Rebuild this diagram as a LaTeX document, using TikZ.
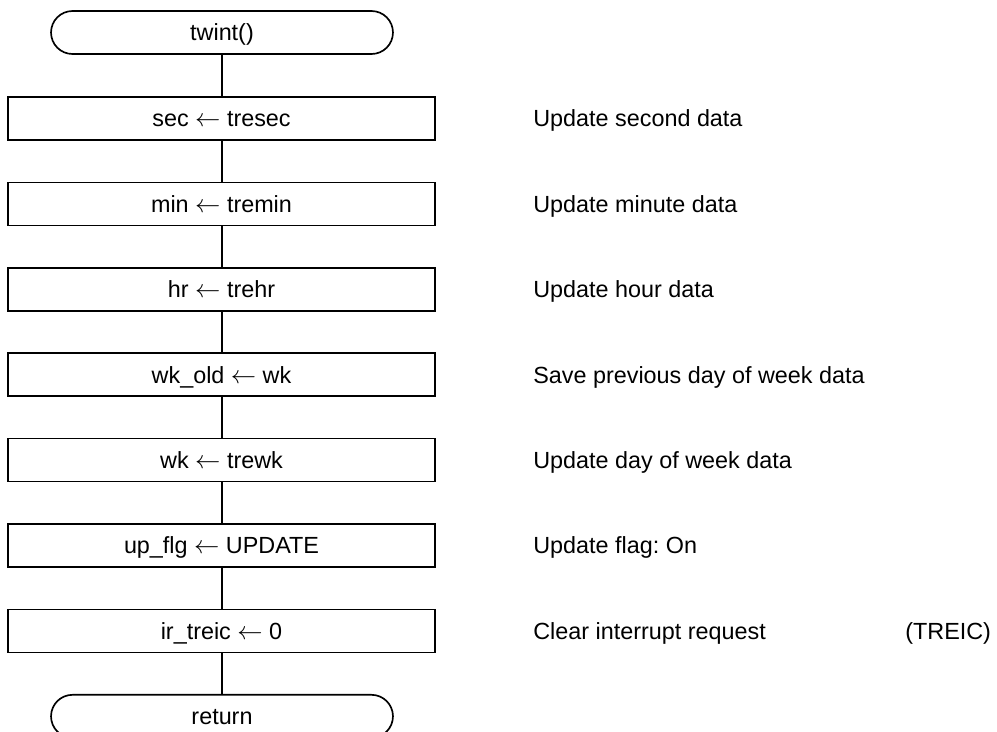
\documentclass[tikz,border=0pt]{standalone}
\usepackage{fontspec}
\setmainfont{Liberation Sans}
\frenchspacing
\begin{document}
\begin{tikzpicture}[x=0.02cm,y=-0.02cm,
  txt/.style={font=\fontsize{13.3}{15}\selectfont, text height=9.5pt, text depth=0pt},
  procbox/.style={txt, draw, line width=0.95pt, minimum width=8.54cm, minimum height=0.86cm,
                  inner sep=0pt, outer sep=0pt},
  termbox/.style={txt, draw, line width=0.95pt, rounded corners=0.43cm, minimum width=6.84cm,
                  minimum height=0.86cm, inner sep=0pt, outer sep=0pt},
  note/.style={txt, anchor=west, inner sep=0pt},
  flowline/.style={line width=0.85pt}]
  \useasboundingbox (0,0) rectangle (997,731);
  \clip (0,0) rectangle (997,731);

  % terminals
  \node[termbox] (start) at (222,32.5) {twint()};
  \node[termbox] (ret)   at (222,716.3) {return};

  % processing steps
  \node[procbox] (p1) at (221.5,118.5) {sec $\leftarrow$ tresec};
  \node[procbox] (p2) at (221.5,203.9) {min $\leftarrow$ tremin};
  \node[procbox] (p3) at (221.5,289.3) {hr $\leftarrow$ trehr};
  \node[procbox] (p4) at (221.5,374.7) {wk\_old $\leftarrow$ wk};
  \node[procbox] (p5) at (221.5,460.1) {wk $\leftarrow$ trewk};
  \node[procbox] (p6) at (221.5,545.5) {up\_flg $\leftarrow$ UPDATE};
  \node[procbox] (p7) at (221.5,630.9) {ir\_treic $\leftarrow$ 0};

  % comments beside the steps
  \node[note] (c1) at (533,118.5) {Update second data};
  \node[note] (c2) at (533,203.9) {Update minute data};
  \node[note] (c3) at (533,289.3) {Update hour data};
  \node[note] (c4) at (533,374.7) {Save previous day of week data};
  \node[note] (c5) at (533,460.1) {Update day of week data};
  \node[note] (c6) at (533,545.5) {Update flag: On};
  \node[note] (c7) at (533,630.9) {Clear interrupt request};
  \node[note] (c8) at (905,630.9) {(TREIC)};

  % flow lines
  \draw[flowline] (start.south) -- (start.south |- p1.north);
  \draw[flowline] (start.south |- p1.south) -- (start.south |- p2.north);
  \draw[flowline] (start.south |- p2.south) -- (start.south |- p3.north);
  \draw[flowline] (start.south |- p3.south) -- (start.south |- p4.north);
  \draw[flowline] (start.south |- p4.south) -- (start.south |- p5.north);
  \draw[flowline] (start.south |- p5.south) -- (start.south |- p6.north);
  \draw[flowline] (start.south |- p6.south) -- (start.south |- p7.north);
  \draw[flowline] (start.south |- p7.south) -- (ret.north);
\end{tikzpicture}
\end{document}
